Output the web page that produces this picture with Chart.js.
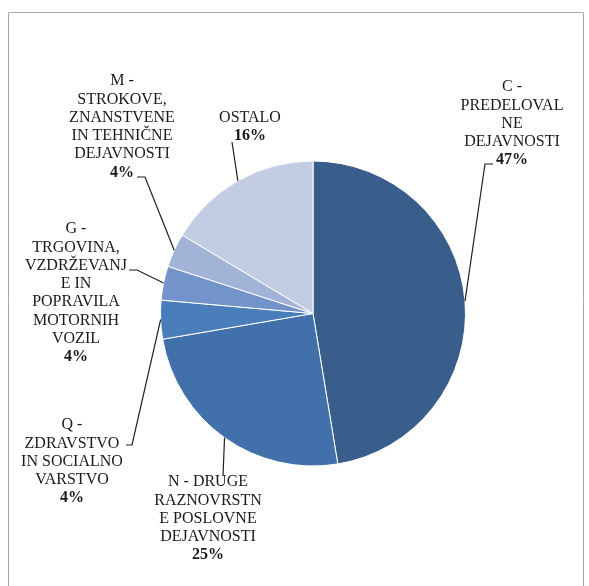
<!DOCTYPE html>
<html>
<head>
<meta charset="utf-8">
<script src="https://cdn.jsdelivr.net/npm/chart.js@4/dist/chart.umd.min.js"></script>
<style>
  html, body { margin: 0; padding: 0; background: #ffffff; }
  #wrap { position: relative; width: 589px; height: 586px; }
</style>
</head>
<body>
<div id="wrap"><canvas id="c" width="589" height="586"></canvas></div>
<script>
// ---- data (clockwise from 12 o'clock) ----
const categories = [
  ['C -', 'PREDELOVAL', 'NE', 'DEJAVNOSTI'],
  ['N - DRUGE', 'RAZNOVRSTN', 'E POSLOVNE', 'DEJAVNOSTI'],
  ['Q -', 'ZDRAVSTVO', 'IN SOCIALNO', 'VARSTVO'],
  ['G -', 'TRGOVINA,', 'VZDRŽEVANJ', 'E IN', 'POPRAVILA', 'MOTORNIH', 'VOZIL'],
  ['M -', 'STROKOVE,', 'ZNANSTVENE', 'IN TEHNIČNE', 'DEJAVNOSTI'],
  ['OSTALO']
];
const shares = [47.4, 24.9, 4.1, 3.6, 3.6, 16.4];
const colors = ['#395e8c', '#4170aa', '#4a7ebb', '#7393cb', '#a1b3d7', '#c2cde3'];

// ---- label layout (positions only) ----
const labelLayout = [
  { cx: 512, y0: 87,  elbow: [485, 164], end: [493, 164] },
  { cx: 208, y0: 482, elbow: null,       end: [223, 476] },
  { cx: 72,  y0: 425, elbow: [132, 445], end: [126, 445] },
  { cx: 76,  y0: 229, elbow: [137, 270], end: [129, 270] },
  { cx: 122, y0: 81,  elbow: [145, 177], end: [137, 177] },
  { cx: 250, y0: 118, elbow: null,       end: [232, 142] }
];
const lineStep = 18.3;
const fontFamily = '"Liberation Serif", "Times New Roman", serif';

const labelPlugin = {
  id: 'pieLabels',
  afterDraw(chart) {
    const ctx = chart.ctx;
    const meta = chart.getDatasetMeta(0);
    const data = chart.data.datasets[0].data;
    const total = data.reduce((a, b) => a + b, 0);
    ctx.save();
    // frame
    ctx.strokeStyle = '#a6a6a6';
    ctx.lineWidth = 1;
    ctx.beginPath();
    ctx.moveTo(8.5, 600);
    ctx.lineTo(8.5, 12.5);
    ctx.lineTo(583.5, 12.5);
    ctx.lineTo(583.5, 600);
    ctx.stroke();

    meta.data.forEach((arc, i) => {
      const p = arc.getProps(['x', 'y', 'startAngle', 'endAngle', 'outerRadius'], true);
      const mid = (p.startAngle + p.endAngle) / 2;
      const ax = p.x + Math.cos(mid) * p.outerRadius;
      const ay = p.y + Math.sin(mid) * p.outerRadius;
      const L = labelLayout[i];
      ctx.strokeStyle = '#1f1f1f';
      ctx.lineWidth = 1.2;
      ctx.beginPath();
      ctx.moveTo(ax, ay);
      if (L.elbow) ctx.lineTo(L.elbow[0], L.elbow[1]);
      ctx.lineTo(L.end[0], L.end[1]);
      ctx.stroke();

      ctx.fillStyle = '#1a1a1a';
      ctx.textAlign = 'center';
      ctx.textBaseline = 'middle';
      const lines = categories[i];
      ctx.font = '16px ' + fontFamily;
      lines.forEach((t, k) => ctx.fillText(t, L.cx, L.y0 + k * lineStep));
      ctx.font = 'bold 16px ' + fontFamily;
      const pct = Math.round(data[i] / total * 100) + '%';
      ctx.fillText(pct, L.cx, L.y0 + lines.length * lineStep);
    });
    ctx.restore();
  }
};

new Chart(document.getElementById('c'), {
  type: 'pie',
  data: {
    labels: categories.map(l => l.join(' ')),
    datasets: [{
      data: shares,
      backgroundColor: colors,
      borderColor: '#ffffff',
      borderWidth: 1
    }]
  },
  options: {
    responsive: false,
    animation: false,
    layout: { padding: { left: 160, right: 123, top: 160, bottom: 119 } },
    plugins: {
      legend: { display: false },
      tooltip: { enabled: false }
    }
  },
  plugins: [labelPlugin]
});
</script>
</body>
</html>
